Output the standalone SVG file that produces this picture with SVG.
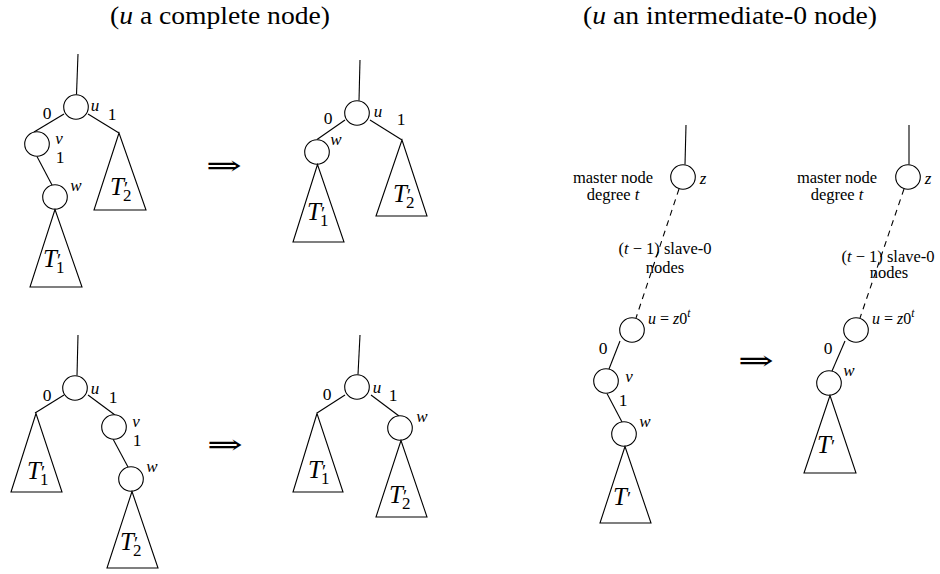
<svg xmlns="http://www.w3.org/2000/svg" width="940" height="574" viewBox="0 0 940 574">
<g id="headers">
<text font-family="Liberation Serif" font-size="25" text-anchor="middle" x="220" y="24" textLength="220" lengthAdjust="spacingAndGlyphs">(<tspan font-style="italic">u</tspan> a complete node)</text>
<text font-family="Liberation Serif" font-size="25" text-anchor="middle" x="730" y="24" textLength="294" lengthAdjust="spacingAndGlyphs">(<tspan font-style="italic">u</tspan> an intermediate-0 node)</text>
</g>

<g id="connectors" stroke="#000" stroke-width="1.1" fill="none">
<line x1="78" y1="54" x2="76.5" y2="94.5"/>
<line x1="64" y1="114" x2="34" y2="132"/>
<line x1="37" y1="156.5" x2="52" y2="185"/>
<line x1="88" y1="114" x2="119" y2="133"/>
<line x1="360" y1="60" x2="359" y2="100.5"/>
<line x1="345" y1="120" x2="317" y2="139.5"/>
<line x1="370" y1="120" x2="402" y2="140"/>
<line x1="78" y1="335" x2="77" y2="375.5"/>
<line x1="64" y1="395" x2="35" y2="413"/>
<line x1="88" y1="395" x2="115" y2="415"/>
<line x1="113" y1="439" x2="128" y2="467"/>
<line x1="360" y1="335" x2="358" y2="374.5"/>
<line x1="345" y1="395" x2="317" y2="413"/>
<line x1="371" y1="395" x2="399" y2="416"/>
<line x1="686" y1="125" x2="685" y2="164.5"/>
<line stroke-dasharray="6 5" x1="679" y1="189" x2="636" y2="318"/>
<line x1="620" y1="341" x2="609" y2="369"/>
<line x1="607" y1="393.5" x2="622" y2="422"/>
<line x1="909" y1="125" x2="909" y2="164.5"/>
<line stroke-dasharray="6 5" x1="904" y1="189" x2="860" y2="318"/>
<line x1="845" y1="341" x2="832" y2="371"/>
</g>

<g id="nodes" stroke="#000" stroke-width="1.1" fill="#fff">
<g id="tl-u"><circle cx="76" cy="107" r="12.3"/></g>
<g id="tl-v"><circle cx="37" cy="144" r="12.3"/></g>
<g id="tl-w"><circle cx="55" cy="197" r="12.3"/></g>
<g id="tl-T1"><polygon fill="none" points="55,209.5 30,287 82,287"/></g>
<g id="tl-T2"><polygon fill="none" points="119,133 94,210 146,210"/></g>
<g id="tm-u"><circle cx="357" cy="113" r="12.3"/></g>
<g id="tm-w"><circle cx="317" cy="152" r="12.3"/></g>
<g id="tm-T1"><polygon fill="none" points="317.5,164.5 293,242 344,242"/></g>
<g id="tm-T2"><polygon fill="none" points="402,140 376,216 427,216"/></g>
<g id="bl-u"><circle cx="75" cy="388" r="12.3"/></g>
<g id="bl-T1"><polygon fill="none" points="36,413.5 11,492 62,492"/></g>
<g id="bl-v"><circle cx="114" cy="427" r="12.3"/></g>
<g id="bl-w"><circle cx="131" cy="479" r="12.3"/></g>
<g id="bl-T2"><polygon fill="none" points="132,491.5 107,568 158,568"/></g>
<g id="bm-u"><circle cx="357" cy="387" r="12.3"/></g>
<g id="bm-T1"><polygon fill="none" points="317,413.5 293,492 343,492"/></g>
<g id="bm-w"><circle cx="400" cy="428" r="12.3"/></g>
<g id="bm-T2"><polygon fill="none" points="401,440.5 376,517 427,517"/></g>
<g id="rl-z"><circle cx="683" cy="177" r="12.3"/></g>
<g id="rl-u"><circle cx="632" cy="330" r="12.3"/></g>
<g id="rl-v"><circle cx="606" cy="381" r="12.3"/></g>
<g id="rl-w"><circle cx="624" cy="434" r="12.3"/></g>
<g id="rl-T"><polygon fill="none" points="625,446.5 600,523 651,523"/></g>
<g id="rr-z"><circle cx="908" cy="177" r="12.3"/></g>
<g id="rr-u"><circle cx="856" cy="330" r="12.3"/></g>
<g id="rr-w"><circle cx="829" cy="383" r="12.3"/></g>
<g id="rr-T"><polygon fill="none" points="830,395.5 804,473 856,473"/></g>
</g>

<g id="node-labels" fill="#000">
<text font-family="Liberation Serif" font-size="17" font-style="italic" text-anchor="middle" x="95" y="111">u</text>
<text font-family="Liberation Serif" font-size="17" font-style="italic" text-anchor="middle" x="59" y="144">v</text>
<text font-family="Liberation Serif" font-size="17" font-style="italic" text-anchor="middle" x="76" y="191">w</text>
<text font-family="Liberation Serif" font-size="17" font-style="italic" text-anchor="middle" x="378" y="117">u</text>
<text font-family="Liberation Serif" font-size="17" font-style="italic" text-anchor="middle" x="336" y="145">w</text>
<text font-family="Liberation Serif" font-size="17" font-style="italic" text-anchor="middle" x="95" y="394">u</text>
<text font-family="Liberation Serif" font-size="17" font-style="italic" text-anchor="middle" x="136" y="427">v</text>
<text font-family="Liberation Serif" font-size="17" font-style="italic" text-anchor="middle" x="152" y="472">w</text>
<text font-family="Liberation Serif" font-size="17" font-style="italic" text-anchor="middle" x="377" y="393">u</text>
<text font-family="Liberation Serif" font-size="17" font-style="italic" text-anchor="middle" x="422" y="422">w</text>
<text font-family="Liberation Serif" font-size="17" font-style="italic" text-anchor="middle" x="703" y="184">z</text>
<text font-family="Liberation Serif" font-size="17" font-style="italic" text-anchor="middle" x="629" y="382">v</text>
<text font-family="Liberation Serif" font-size="17" font-style="italic" text-anchor="middle" x="645" y="427">w</text>
<text font-family="Liberation Serif" font-size="17" font-style="italic" text-anchor="middle" x="928" y="184">z</text>
<text font-family="Liberation Serif" font-size="17" font-style="italic" text-anchor="middle" x="849" y="376">w</text>
<text font-family="Liberation Serif" font-size="16" x="648" y="324"><tspan font-style="italic">u</tspan> = <tspan font-style="italic">z</tspan>0<tspan font-style="italic" font-size="11.5" dy="-7">t</tspan></text>
<text font-family="Liberation Serif" font-size="16" x="872" y="324"><tspan font-style="italic">u</tspan> = <tspan font-style="italic">z</tspan>0<tspan font-style="italic" font-size="11.5" dy="-7">t</tspan></text>
</g>

<g id="subtree-labels" fill="#000">
<text font-family="Liberation Serif" font-size="25" font-style="italic" x="43" y="267">T<tspan font-style="normal" font-size="19">′</tspan><tspan font-style="normal" font-size="17" dx="-5" dy="6">1</tspan></text>
<text font-family="Liberation Serif" font-size="25" font-style="italic" x="110" y="195">T<tspan font-style="normal" font-size="19">′</tspan><tspan font-style="normal" font-size="17" dx="-5" dy="6">2</tspan></text>
<text font-family="Liberation Serif" font-size="25" font-style="italic" x="307" y="220">T<tspan font-style="normal" font-size="19">′</tspan><tspan font-style="normal" font-size="17" dx="-5" dy="6">1</tspan></text>
<text font-family="Liberation Serif" font-size="25" font-style="italic" x="393" y="202">T<tspan font-style="normal" font-size="19">′</tspan><tspan font-style="normal" font-size="17" dx="-5" dy="6">2</tspan></text>
<text font-family="Liberation Serif" font-size="25" font-style="italic" x="27" y="479">T<tspan font-style="normal" font-size="19">′</tspan><tspan font-style="normal" font-size="17" dx="-5" dy="6">1</tspan></text>
<text font-family="Liberation Serif" font-size="25" font-style="italic" x="120" y="550">T<tspan font-style="normal" font-size="19">′</tspan><tspan font-style="normal" font-size="17" dx="-5" dy="6">2</tspan></text>
<text font-family="Liberation Serif" font-size="25" font-style="italic" x="308" y="478">T<tspan font-style="normal" font-size="19">′</tspan><tspan font-style="normal" font-size="17" dx="-5" dy="6">1</tspan></text>
<text font-family="Liberation Serif" font-size="25" font-style="italic" x="389" y="503">T<tspan font-style="normal" font-size="19">′</tspan><tspan font-style="normal" font-size="17" dx="-5" dy="6">2</tspan></text>
<text font-family="Liberation Serif" font-size="25" font-style="italic" x="613" y="505">T<tspan font-style="normal" font-size="19">′</tspan></text>
<text font-family="Liberation Serif" font-size="25" font-style="italic" x="817" y="453">T<tspan font-style="normal" font-size="19">′</tspan></text>
</g>

<g id="edge-labels" fill="#000">
<text font-family="Liberation Serif" font-size="17.5" text-anchor="middle" x="47" y="119">0</text>
<text font-family="Liberation Serif" font-size="17.5" text-anchor="middle" x="112" y="120">1</text>
<text font-family="Liberation Serif" font-size="17.5" text-anchor="middle" x="60" y="163">1</text>
<text font-family="Liberation Serif" font-size="17.5" text-anchor="middle" x="328" y="124">0</text>
<text font-family="Liberation Serif" font-size="17.5" text-anchor="middle" x="401" y="125">1</text>
<text font-family="Liberation Serif" font-size="17.5" text-anchor="middle" x="47" y="401">0</text>
<text font-family="Liberation Serif" font-size="17.5" text-anchor="middle" x="113" y="403">1</text>
<text font-family="Liberation Serif" font-size="17.5" text-anchor="middle" x="137" y="446">1</text>
<text font-family="Liberation Serif" font-size="17.5" text-anchor="middle" x="327" y="400">0</text>
<text font-family="Liberation Serif" font-size="17.5" text-anchor="middle" x="393" y="401">1</text>
<text font-family="Liberation Serif" font-size="17.5" text-anchor="middle" x="603" y="354">0</text>
<text font-family="Liberation Serif" font-size="17.5" text-anchor="middle" x="623" y="406">1</text>
<text font-family="Liberation Serif" font-size="17.5" text-anchor="middle" x="828" y="354">0</text>
</g>

<g id="side-notes" fill="#000">
<text font-family="Liberation Serif" font-size="16.5" text-anchor="middle" x="613" y="183">master node</text>
<text font-family="Liberation Serif" font-size="16.5" text-anchor="middle" x="613" y="200">degree <tspan font-style="italic">t</tspan></text>
<text font-family="Liberation Serif" font-size="16.5" text-anchor="middle" x="665" y="254">(<tspan font-style="italic">t</tspan> − 1) slave-0</text>
<text font-family="Liberation Serif" font-size="16.5" text-anchor="middle" x="665" y="273">nodes</text>
<text font-family="Liberation Serif" font-size="16.5" text-anchor="middle" x="837" y="183">master node</text>
<text font-family="Liberation Serif" font-size="16.5" text-anchor="middle" x="837" y="200">degree <tspan font-style="italic">t</tspan></text>
<text font-family="Liberation Serif" font-size="16.5" text-anchor="middle" x="888" y="262">(<tspan font-style="italic">t</tspan> − 1) slave-0</text>
<text font-family="Liberation Serif" font-size="16.5" text-anchor="middle" x="889" y="278">nodes</text>
</g>

<g id="arrows" fill="#000">
<text font-family="DejaVu Serif" font-size="28" x="206" y="175" textLength="36" lengthAdjust="spacingAndGlyphs">⇒</text>
<text font-family="DejaVu Serif" font-size="28" x="207" y="454" textLength="36" lengthAdjust="spacingAndGlyphs">⇒</text>
<text font-family="DejaVu Serif" font-size="28" x="738" y="370" textLength="36" lengthAdjust="spacingAndGlyphs">⇒</text>
</g>
</svg>
